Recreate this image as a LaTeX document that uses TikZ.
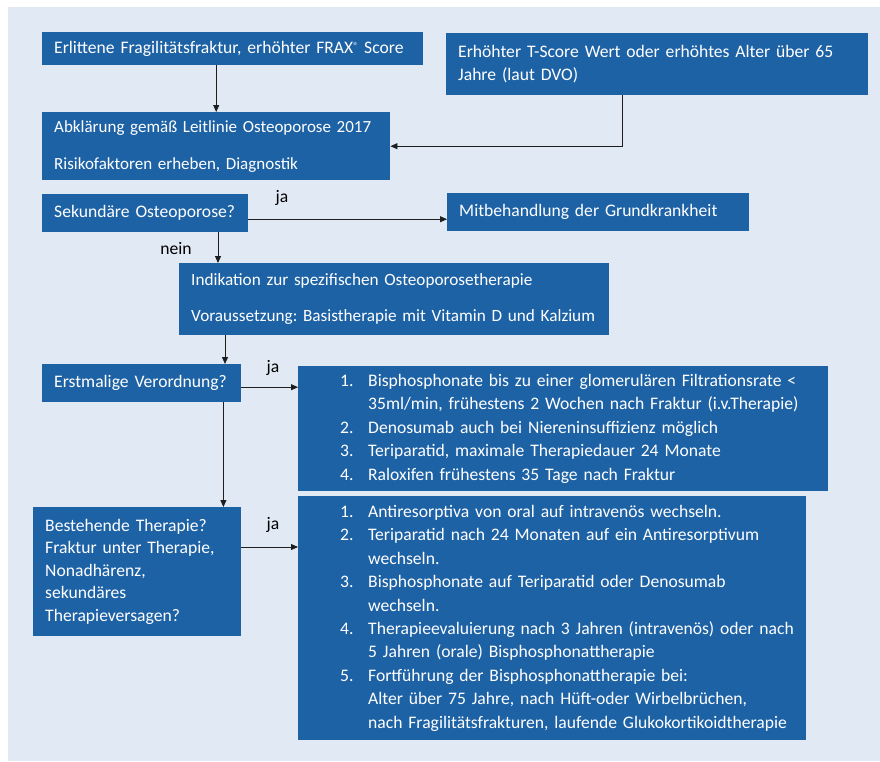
\documentclass[tikz,border=0pt]{standalone}
\usepackage{fontspec}
\setmainfont{Carlito}
\usetikzlibrary{arrows.meta}
\frenchspacing

\definecolor{hintergrund}{RGB}{225,234,244}
\definecolor{blaukasten}{RGB}{30,98,166}
\definecolor{linie}{RGB}{30,30,30}

\newcommand{\nr}[1]{\hspace*{42pt}\makebox[28pt][l]{#1}}
\newcommand{\wt}{\hspace*{70pt}}

\tikzset{
  kasten/.style n args={3}{fill=blaukasten, text=white, anchor=north west, inner xsep=12pt, inner ysep=0pt,
    minimum width=#1pt, minimum height=#2pt, text width=#3pt, align=left, font=\fontsize{17.6}{22.5}\selectfont},
  liste/.style 2 args={fill=blaukasten, text=white, anchor=north west, inner sep=0pt,
    minimum height=#2pt, text width=#1pt, align=left, font=\fontsize{17.6}{23.4}\selectfont},
  marke/.style={text=black, inner sep=0pt, font=\fontsize{17.6}{20}\selectfont},
  pfeil/.style={draw=linie, line width=0.8pt, -{Triangle[length=7pt,width=6pt]}}
}

\begin{document}
\begin{tikzpicture}[x=1pt,y=-1pt]

\useasboundingbox (0,0) rectangle (880,761);
\fill[hintergrund] (8,7) rectangle (880,761);

% Einstieg
\node[kasten={381}{33}{357}] (frax) at (42,32) {Erlittene Fragilitätsfraktur, erhöhter FRAX\raisebox{3.5pt}{\fontsize{10}{10}\selectfont ®} Score};
\node[kasten={422}{62}{398}] (tscore) at (446,33) {Erhöhter T-Score Wert oder erhöhtes Alter über 65\\Jahre (laut DVO)};
\node[kasten={348}{68}{324}, font=\fontsize{17}{22.5}\selectfont] (abkl) at (42,112) {Abklärung gemäß Leitlinie Osteoporose 2017\\[14.5pt]Risikofaktoren erheben, Diagnostik};

% Abfrage sekundaer
\node[kasten={206}{38}{182}] (sek) at (42,194) {Sekundäre Osteoporose?};
\node[kasten={302}{38}{278}] (mitb) at (447,193) {Mitbehandlung der Grundkrankheit};
\node[kasten={430}{72}{406}, font=\fontsize{17.2}{22.5}\selectfont] (indik) at (179,263) {Indikation zur spezifischen Osteoporosetherapie\\[13.5pt]Voraussetzung: Basistherapie mit Vitamin D und Kalzium};

% Therapie
\node[kasten={199}{38}{175}] (erst) at (42,364) {Erstmalige Verordnung?};
\node[liste={530}{125}] (liste1) at (298,366) {%
\nr{1.}Bisphosphonate bis zu einer glomerulären Filtrationsrate <\\
\wt 35ml/min, frühestens 2 Wochen nach Fraktur (i.v.Therapie)\\
\nr{2.}Denosumab auch bei Niereninsuffizienz möglich\\
\nr{3.}Teriparatid, maximale Therapiedauer 24 Monate\\
\nr{4.}Raloxifen frühestens 35 Tage nach Fraktur};

\node[kasten={208}{129}{184}] (best) at (33,507) {Bestehende Therapie?\\Fraktur unter Therapie,\\Nonadhärenz,\\sekundäres\\Therapieversagen?};
\node[liste={508}{244}] (liste2) at (298,496) {%
\nr{1.}Antiresorptiva von oral auf intravenös wechseln.\\
\nr{2.}Teriparatid nach 24 Monaten auf ein Antiresorptivum\\
\wt wechseln.\\
\nr{3.}Bisphosphonate auf Teriparatid oder Denosumab\\
\wt wechseln.\\
\nr{4.}Therapieevaluierung nach 3 Jahren (intravenös) oder nach\\
\wt 5 Jahren (orale) Bisphosphonattherapie\\
\nr{5.}Fortführung der Bisphosphonattherapie bei:\\
\wt Alter über 75 Jahre, nach Hüft-oder Wirbelbrüchen,\\
\wt nach Fragilitätsfrakturen, laufende Glukokortikoidtherapie};

% Pfeile
\draw[pfeil] (abkl.north |- frax.south) -- (abkl.north);
\draw[pfeil] ([xshift=176pt]tscore.south west) |- (abkl.east);
\draw[pfeil] ([yshift=-6pt]sek.east) -- ([yshift=-6pt]sek.east -| mitb.west);
\draw[pfeil] ([xshift=39pt]indik.north west |- sek.south) -- ([xshift=39pt]indik.north west);
\draw[pfeil] ([xshift=46pt]indik.south west) -- ([xshift=46pt]indik.south west |- erst.north);
\draw[pfeil] ([yshift=-4pt]erst.east) -- ([yshift=-4pt]erst.east -| liste1.west);
\draw[pfeil] ([xshift=-18pt]erst.south east) -- ([xshift=-18pt]erst.south east |- best.north);
\draw[pfeil] ([yshift=-40pt]best.north east) -- ([yshift=-40pt]best.north east -| liste2.west);

% ja / nein
\node[marke] (ja1) at (282,198) {ja};
\node[marke] (nein) at (176,248) {nein};
\node[marke] (ja2) at (273,368) {ja};
\node[marke] (ja3) at (273,525) {ja};

\end{tikzpicture}
\end{document}
